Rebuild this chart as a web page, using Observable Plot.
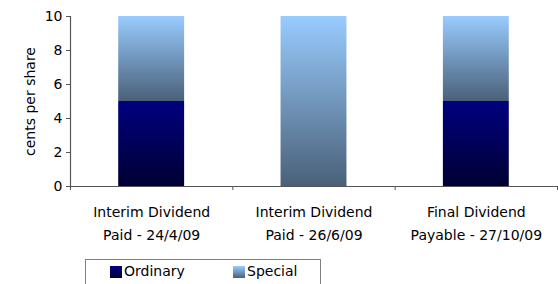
<!DOCTYPE html>
<html><head><meta charset="utf-8">
<script src="https://cdn.jsdelivr.net/npm/d3@7"></script>
<script src="https://cdn.jsdelivr.net/npm/@observablehq/plot@0.6"></script>
<style>
body{margin:0;background:#fff;font-family:"DejaVu Sans",sans-serif;color:#000;}
#chart svg{display:block;}
#legend{position:relative;margin-left:85px;margin-top:3px;width:234px;height:30px;border:1px solid #7f7f7f;border-bottom:none;font-size:14px;}
.sw{position:absolute;top:6px;width:12px;height:12px;}
.lt{position:absolute;top:3px;line-height:16px;}
</style></head><body>
<div id="chart"></div>
<div id="legend"></div>
<script>
const categories = ["Interim Dividend\nPaid - 24/4/09", "Interim Dividend\nPaid - 26/6/09", "Final Dividend\nPayable - 27/10/09"];
const ordinary = [5, 0, 5];
const special = [5, 10, 5];
const seriesNames = ["Ordinary", "Special"];
const yTicks = [0, 2, 4, 6, 8, 10];

const half = 0.203;
const idx = categories.map((c, i) => i);
const ordData = idx.filter(i => ordinary[i] > 0);
const spData = idx.filter(i => special[i] > 0);

const chart = Plot.plot({
  width: 558,
  height: 256,
  marginLeft: 70,
  marginRight: 1,
  marginTop: 16,
  marginBottom: 70,
  style: {fontFamily: "DejaVu Sans, sans-serif", fontSize: "14px", color: "#000", background: "#fff"},
  x: {domain: [0, categories.length], axis: null},
  y: {domain: [0, 10], axis: null},
  marks: [
    Plot.rectY(ordData, {x1: i => i + 0.5 - half, x2: i => i + 0.5 + half, y1: 0, y2: i => ordinary[i], fill: "url(#gradOrd)"}),
    Plot.rectY(spData, {x1: i => i + 0.5 - half, x2: i => i + 0.5 + half, y1: i => ordinary[i], y2: i => ordinary[i] + special[i], fill: "url(#gradSp)"}),
    Plot.ruleX([0], {stroke: "#555", strokeWidth: 1.2}),
    Plot.ruleY([0], {stroke: "#555", strokeWidth: 1.2}),
    Plot.axisY({ticks: yTicks, tickSize: 4, tickPadding: 4, stroke: "#555", fontSize: 14, label: "cents per share", labelAnchor: "center", labelArrow: "none", labelOffset: 45}),
    Plot.axisX(d3.range(categories.length + 1), {tickSize: 4, tickFormat: () => "", stroke: "#555"}),
    Plot.text(idx, {x: i => i + 0.5, y: 0, text: i => categories[i], lineAnchor: "top", dy: 14, lineHeight: 1.64, fontSize: 14, fill: "#000"})
  ]
});

const ns = "http://www.w3.org/2000/svg";
const defs = document.createElementNS(ns, "defs");
function grad(id, top, bottom) {
  const g = document.createElementNS(ns, "linearGradient");
  g.setAttribute("id", id);
  g.setAttribute("x1", "0"); g.setAttribute("y1", "0");
  g.setAttribute("x2", "0"); g.setAttribute("y2", "1");
  [[0, top], [1, bottom]].forEach(([o, c]) => {
    const s = document.createElementNS(ns, "stop");
    s.setAttribute("offset", o);
    s.setAttribute("stop-color", c);
    g.appendChild(s);
  });
  defs.appendChild(g);
}
grad("gradOrd", "#000080", "#000033");
grad("gradSp", "#99CCFF", "#4A6078");
chart.insertBefore(defs, chart.firstChild);
document.getElementById("chart").appendChild(chart);

const legend = document.getElementById("legend");
const legendItems = [
  {name: seriesNames[0], bg: "linear-gradient(#000080,#000033)", left: 24},
  {name: seriesNames[1], bg: "linear-gradient(#99CCFF,#4A6078)", left: 147}
];
legendItems.forEach(it => {
  const s = document.createElement("div");
  s.className = "sw"; s.style.left = it.left + "px"; s.style.background = it.bg;
  const t = document.createElement("div");
  t.className = "lt"; t.style.left = (it.left + 14) + "px"; t.textContent = it.name;
  legend.appendChild(s); legend.appendChild(t);
});
</script>
</body></html>
